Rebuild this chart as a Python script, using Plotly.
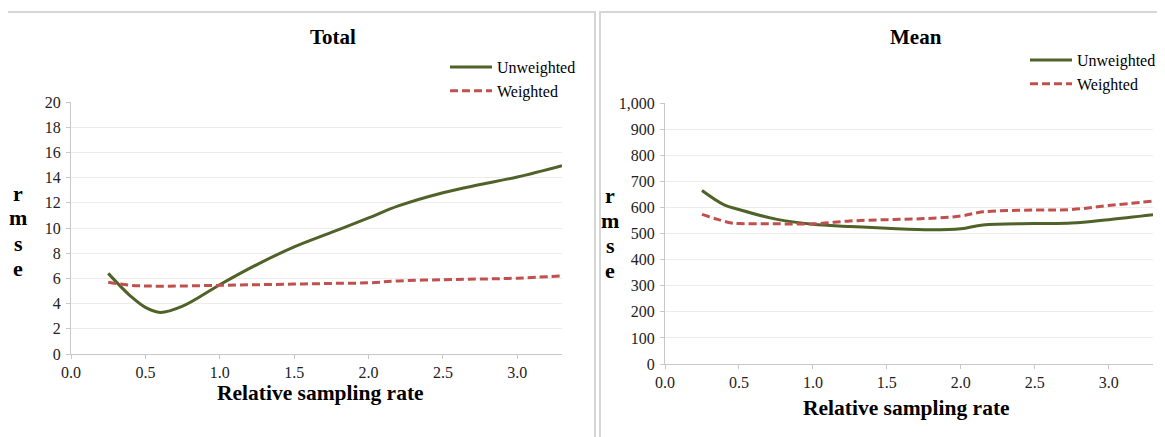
import plotly.graph_objects as go

# page body has an 8px margin; figure is sized to fill the rest of the window
OFF = 8
W, H = 1165 - OFF, 437 - OFF

# ---- data ----
x_total = [0.25, 0.4, 0.5, 0.6, 0.75, 1.0, 1.25, 1.5, 1.75, 2.0, 2.2, 2.5, 2.75, 3.0, 3.3]
total_unweighted = [6.4, 4.6, 3.7, 3.3, 3.8, 5.5, 7.1, 8.5, 9.65, 10.8, 11.75, 12.8, 13.45, 14.05, 14.95]
total_weighted = [5.7, 5.45, 5.4, 5.38, 5.4, 5.45, 5.5, 5.55, 5.6, 5.65, 5.8, 5.9, 5.95, 6.02, 6.2]

x_mean = [0.25, 0.4, 0.5, 0.75, 1.0, 1.25, 1.5, 1.8, 2.0, 2.15, 2.5, 2.75, 3.0, 3.3]
mean_unweighted = [665, 610, 592, 555, 535, 527, 520, 514, 518, 533, 538, 540, 553, 572]
x_mean_w = [0.25, 0.35, 0.45, 0.5, 0.75, 1.0, 1.25, 1.5, 1.75, 2.0, 2.15, 2.5, 2.75, 3.0, 3.3]
mean_weighted = [573, 555, 540, 538, 537, 537, 548, 553, 557, 567, 583, 590, 592, 607, 624]

x_ticks = [0.0, 0.5, 1.0, 1.5, 2.0, 2.5, 3.0]
series_names = ["Unweighted", "Weighted"]
panel_titles = ["Total", "Mean"]
x_title = "Relative sampling rate"
y_title_letters = ["r", "m", "s", "e"]

GREEN = "#4f6228"
RED = "#c0504d"
SERIF = "Liberation Serif"


def px(x):
    return (x - OFF) / W


def py(y):
    return (H - (y - OFF)) / H


fig = go.Figure()

fig.add_trace(go.Scatter(x=x_total, y=total_unweighted, name=series_names[0], mode="lines",
                         line=dict(color=GREEN, width=3, shape="spline"),
                         xaxis="x", yaxis="y", legend="legend"))
fig.add_trace(go.Scatter(x=x_total, y=total_weighted, name=series_names[1], mode="lines",
                         line=dict(color=RED, width=3, dash="8px,4px", shape="spline"),
                         xaxis="x", yaxis="y", legend="legend"))
fig.add_trace(go.Scatter(x=x_mean, y=mean_unweighted, name=series_names[0], mode="lines",
                         line=dict(color=GREEN, width=3, shape="spline"),
                         xaxis="x2", yaxis="y2", legend="legend2"))
fig.add_trace(go.Scatter(x=x_mean_w, y=mean_weighted, name=series_names[1], mode="lines",
                         line=dict(color=RED, width=3, dash="8px,4px", shape="spline"),
                         xaxis="x2", yaxis="y2", legend="legend2"))

axis_common = dict(showline=True, linecolor="#c8c8c8", linewidth=1, ticks="outside",
                   ticklen=4, tickcolor="#c8c8c8", zeroline=False,
                   tickfont=dict(family=SERIF, size=16, color="#222222"), automargin=False)

xaxis_common = dict(axis_common, range=[0, 3.3], tickvals=x_ticks, tickformat=".1f",
                    showgrid=False)

legend_common = dict(xanchor="left", yanchor="top",
                     font=dict(family=SERIF, size=16, color="#000000"),
                     bgcolor="rgba(0,0,0,0)", tracegroupgap=0, itemclick=False,
                     itemwidth=42)

fig.update_layout(
    width=W, height=H,
    margin=dict(l=0, r=0, t=0, b=0),
    paper_bgcolor="white", plot_bgcolor="white",
    font=dict(family=SERIF, color="#000000"),
    xaxis=dict(xaxis_common, domain=[px(71), px(562)], anchor="y"),
    yaxis=dict(axis_common, domain=[py(354), py(102)], anchor="x", range=[0, 20], dtick=2,
               showgrid=True, gridcolor="#ececec", gridwidth=1, ticklabelstandoff=2),
    xaxis2=dict(xaxis_common, domain=[px(665), px(1153)], anchor="y2"),
    yaxis2=dict(axis_common, domain=[py(364), py(103)], anchor="x2", range=[0, 1000], dtick=100,
                tickformat=",", showgrid=True, gridcolor="#ececec", gridwidth=1,
                ticklabelstandoff=2),
    legend=dict(legend_common, x=px(445), y=py(50)),
    legend2=dict(legend_common, x=px(1025), y=py(43)),
    showlegend=True,
)

# panel borders
border = dict(color="#d6d6d6", width=2)
fig.add_shape(type="rect", xref="paper", yref="paper", x0=px(7), x1=px(595), y0=-0.2, y1=py(12),
              line=border, layer="below")
fig.add_shape(type="rect", xref="paper", yref="paper", x0=px(600), x1=1.2, y0=-0.2, y1=py(12),
              line=border, layer="below")

annotations = []
# panel titles
for title, cx in zip(panel_titles, [333, 916]):
    annotations.append(dict(text=f"<b>{title}</b>", x=px(cx), y=py(37), xref="paper", yref="paper",
                            showarrow=False, xanchor="center", yanchor="middle",
                            font=dict(family=SERIF, size=21, color="#000000")))
# x titles
for cx, cy in [(320, 393), (906, 408)]:
    annotations.append(dict(text=f"<b>{x_title}</b>", x=px(cx), y=py(cy), xref="paper", yref="paper",
                            showarrow=False, xanchor="center", yanchor="middle",
                            font=dict(family=SERIF, size=21.5, color="#000000")))
# y titles (stacked letters)
for cx, cy0 in [(18, 193), (610, 195)]:
    for i, letter in enumerate(y_title_letters):
        annotations.append(dict(text=f"<b>{letter}</b>", x=px(cx), y=py(cy0 + 25 * i),
                                xref="paper", yref="paper", showarrow=False,
                                xanchor="center", yanchor="middle",
                                font=dict(family=SERIF, size=22, color="#000000")))
fig.update_layout(annotations=annotations)

fig.write_html("out.html")
